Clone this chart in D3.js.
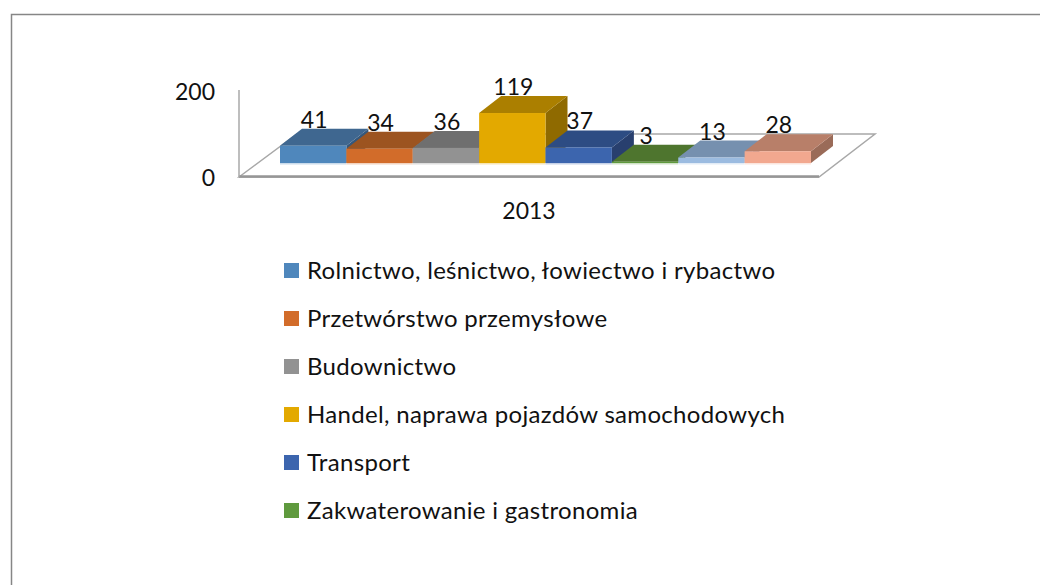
<!DOCTYPE html>
<html><head><meta charset="utf-8">
<script src="https://cdn.jsdelivr.net/npm/d3@7"></script>
<style>html,body{margin:0;padding:0;background:#fff}svg{display:block}text{font-family:Lato,"Open Sans",sans-serif;fill:#111}</style>
</head><body>
<svg id="c" width="1040" height="585"></svg>
<script>
const years = ["2013"];
const legendNames = ["Rolnictwo, leśnictwo, łowiectwo i rybactwo","Przetwórstwo przemysłowe","Budownictwo","Handel, naprawa pojazdów samochodowych","Transport","Zakwaterowanie i gastronomia"];
const seriesIds = ["a","b","c","d","e","f","g","h"];
const values = [41,34,36,119,37,3,13,28];
const frontColors = ["#4F87BC","#D26C2A","#929292","#E3A900","#3C65AE","#5F9A3E","#9BBBE0","#F2A88F"];
const topColors = ["#3F6790","#9C5420","#6F6F6F","#AB7F00","#2D4C83","#4E752E","#7690AF","#B87F69"];
const sideColors = ["#35587C","#85471B","#5E5E5E","#8F6A00","#283F6E","#42632A","#647A95","#9A6B58"];
const axisTicks = [0,200];

const svg = d3.select("#c");
const x = d3.scaleBand().domain(seriesIds).range([280,811]);
const h = d3.scaleLinear().domain([0,200]).range([163,79]);
const axisY = d3.scaleLinear().domain([0,200]).range([177,90]);
const dx = 22, dy = 17;
const fs = 23;

// frame
svg.append("path").attr("d","M11.5 585V14.5H1040").attr("fill","none").attr("stroke","#868686").attr("stroke-width",1.5);

// floor
const y0 = axisY(0), xl = 239, xr = 819;
svg.append("path").attr("d",`M${xl} ${y0}L${xl+58} ${y0-43}H${xr+56}L${xr} ${y0}Z`)
  .attr("fill","#fff").attr("stroke","#A8A8A8").attr("stroke-width",1.5);
svg.append("line").attr("x1",xl).attr("x2",xr).attr("y1",y0-0.5).attr("y2",y0-0.5).attr("stroke","#969696").attr("stroke-width",2.5);
svg.append("line").attr("x1",xl).attr("x2",xl).attr("y1",axisY(200)).attr("y2",y0).attr("stroke","#A8A8A8").attr("stroke-width",1.5);

// axis labels
svg.selectAll("text.tick").data(axisTicks).join("text").attr("class","tick")
  .attr("x",215).attr("y",d=>axisY(d)+(d?10:9)).attr("text-anchor","end").attr("font-size",fs).text(d=>d);
svg.selectAll("text.cat").data(years).join("text").attr("class","cat")
  .attr("x",529).attr("y",219).attr("text-anchor","middle").attr("font-size",fs).text(d=>d);

// bars
const data = seriesIds.map((id,i)=>({id,v:values[i],i}));
const g = svg.selectAll("g.bar").data(data).join("g").attr("class","bar");
g.append("rect").attr("x",d=>x(d.id)).attr("y",h(0)).attr("width",x.bandwidth()).attr("height",1.5).attr("fill",d=>d3.interpolateRgb(frontColors[d.i],"#fff")(0.7));
g.append("path").attr("fill",d=>sideColors[d.i]).attr("d",d=>{
  const r=x(d.id)+x.bandwidth();
  return `M${r} ${h(0)}L${r+dx} ${h(0)-dy}V${h(d.v)-dy}L${r} ${h(d.v)}Z`;});
g.append("path").attr("fill",d=>topColors[d.i]).attr("d",d=>{
  const l=x(d.id), r=l+x.bandwidth(), t=h(d.v);
  return `M${l} ${t}L${l+dx} ${t-dy}H${r+dx}L${r} ${t}Z`;});
g.append("rect").attr("fill",d=>frontColors[d.i]).attr("x",d=>x(d.id)).attr("y",d=>h(d.v))
  .attr("width",x.bandwidth()).attr("height",d=>h(0)-h(d.v));
svg.selectAll("text.val").data(data).join("text").attr("class","val")
  .attr("x",d=>x(d.id)+x.bandwidth()/2+1).attr("y",d=>h(d.v)-dy-1).attr("text-anchor","middle").attr("font-size",fs).text(d=>d.v);

// legend
const ly = d3.scalePoint().domain(legendNames).range([271,511]);
const lg = svg.selectAll("g.leg").data(legendNames).join("g").attr("class","leg");
lg.append("rect").attr("x",284).attr("y",d=>ly(d)-8).attr("width",15).attr("height",15).attr("fill",(d,i)=>frontColors[i]);
lg.append("text").attr("x",307).attr("y",d=>ly(d)+8).attr("font-size",24).attr("letter-spacing",0.32).text(d=>d);
</script>
</body></html>
